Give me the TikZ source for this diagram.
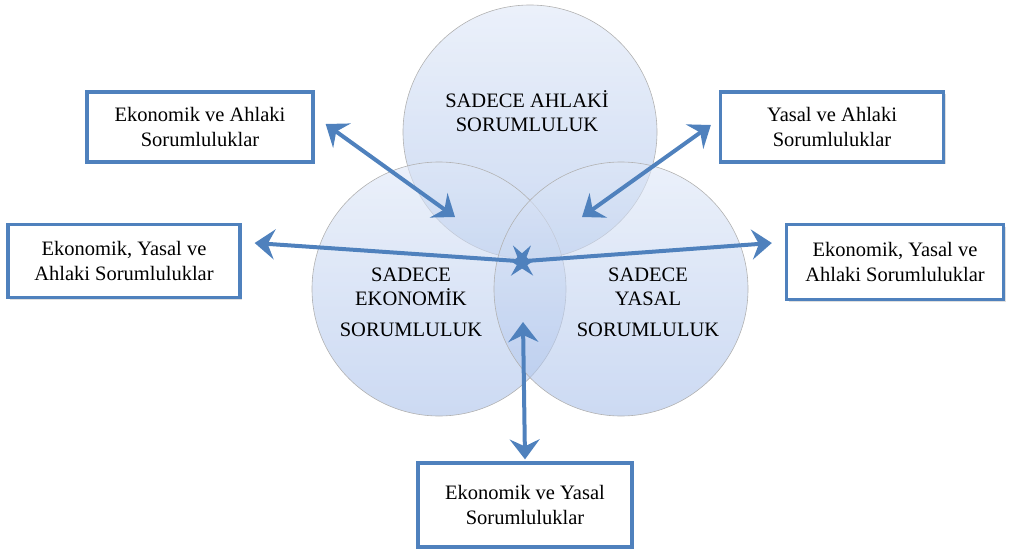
\documentclass[tikz,border=0pt]{standalone}
\usepackage{fontspec}
\setmainfont{Liberation Serif}
\usepackage{xcolor}
\usepackage{tikz}
\usetikzlibrary{shapes, arrows.meta, shadows}

\definecolor{boxblue}{RGB}{79,129,189}
\definecolor{venntop}{RGB}{222,231,247}
\definecolor{vennbot}{RGB}{170,193,234}

\begin{document}
\begin{tikzpicture}[x=1pt, y=-1pt,
    venn/.style = {circle, draw=gray!60, line width=0.6pt, minimum size=254pt,
                   top color=venntop, bottom color=vennbot, fill opacity=0.6},
    lbl/.style = {align=center, font=\fontsize{20.5}{24}\selectfont},
    box/.style = {rectangle, draw=boxblue, line width=3.3pt, fill=white, align=center,
                  font=\fontsize{20.5}{25}\selectfont,
                  drop shadow={opacity=0.25, shadow xshift=2pt, shadow yshift=-2pt}},
    arr/.style = {boxblue, line width=4pt,
                  {Stealth[length=20pt,width=30pt,inset=7pt]}-{Stealth[length=20pt,width=30pt,inset=7pt]}}]
        \useasboundingbox (0,0) rectangle (1009,551);

        % Circles
        \node [venn] (ahlak) at (530,132) {};
        \node [venn] (ekonomi) at (439,289) {};
        \node [venn] (yasal) at (621,289) {};
        \node [lbl] (ahlaktxt) at (527,111) {SADECE AHLAKİ\\SORUMLULUK};
        \node [lbl] (ekonomitxt) at (411,302) {SADECE\\EKONOMİK\\[7pt]SORUMLULUK};
        \node [lbl] (yasaltxt) at (648,302) {SADECE\\YASAL\\[7pt]SORUMLULUK};

        % Boxes
        \node [box, minimum width=226pt, minimum height=70pt] (ekah) at (200,127) {Ekonomik ve Ahlaki\\Sorumluluklar};
        \node [box, minimum width=223pt, minimum height=70pt] (yaah) at (832,127) {Yasal ve Ahlaki\\Sorumluluklar};
        \node [box, minimum width=232pt, minimum height=73pt] (hepsil) at (124,261) {Ekonomik, Yasal ve\\Ahlaki Sorumluluklar};
        \node [box, minimum width=217pt, minimum height=75pt] (hepsir) at (895,262) {Ekonomik, Yasal ve\\Ahlaki Sorumluluklar};
        \node [box, minimum width=214pt, minimum height=84pt] (ekya) at (525,505) {Ekonomik ve Yasal\\Sorumluluklar};

        % Arrow ends inside the circles
        \coordinate (ekahin) at (455,217);
        \coordinate (yaahin) at (582,217);
        \coordinate (corel) at (532,262);
        \coordinate (corer) at (512,262);
        \coordinate (ekyain) at (523,322);

        % Arrows
        \path [draw, arr] ([xshift=11pt,yshift=3pt]ekah.east) -- (ekahin);
        \path [draw, arr] ([xshift=-8pt,yshift=2pt]yaah.west) -- (yaahin);
        \path [draw, arr] ([xshift=13pt,yshift=18pt]hepsil.east) -- (corel);
        \path [draw, arr] (corer) -- ([xshift=-13pt,yshift=19pt]hepsir.west);
        \path [draw, arr] (ekyain) -- ([yshift=2pt]ekya.north);
    \end{tikzpicture}
\end{document}
